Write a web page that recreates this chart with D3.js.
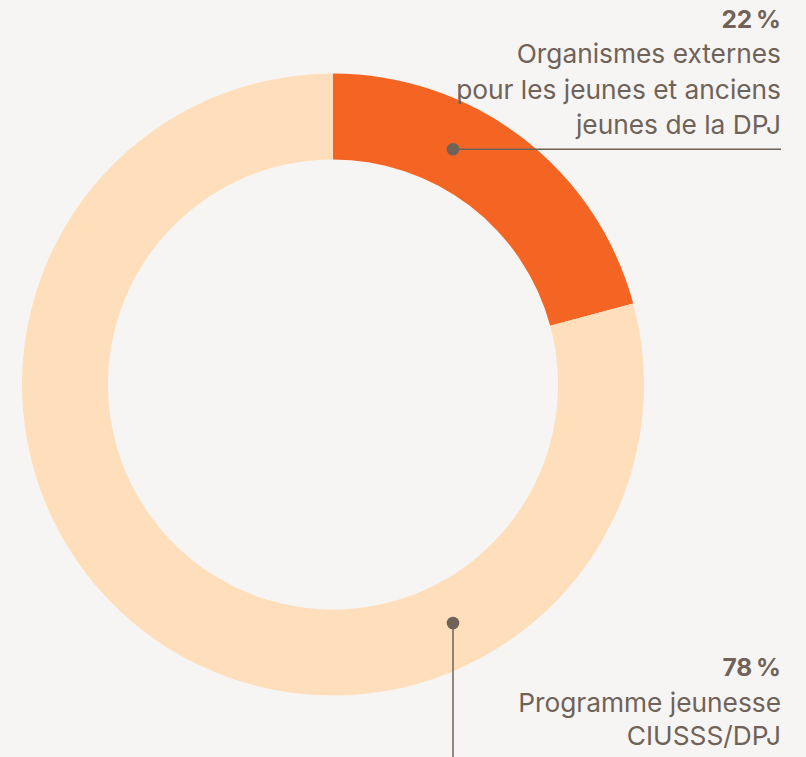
<!DOCTYPE html>
<html><head><meta charset="utf-8">
<script src="https://cdn.jsdelivr.net/npm/d3@7"></script>
<style>
html,body{margin:0;padding:0;background:#f7f5f3;}
svg{display:block;}
</style></head>
<body>
<script>
// Data
const categories = ["Organismes externes pour les jeunes et anciens jeunes de la DPJ", "Programme jeunesse CIUSSS/DPJ"];
const values = [20.8, 79.2];           // arc extents as drawn
const percentLabels = ["22\u202F%", "78\u202F%"]; // printed labels
const labelLines = [
  ["Organismes externes", "pour les jeunes et anciens", "jeunes de la DPJ"],
  ["Programme jeunesse", "CIUSSS/DPJ"]
];
const colors = ["#f46524", "#ffdfbb"];

const W = 806, H = 757;
const cx = 333, cy = 384.5, R = 311, r = 225;
const textColor = "#6e6259";

const svg = d3.select("body").append("svg").attr("width", W).attr("height", H);
svg.append("rect").attr("width", W).attr("height", H).attr("fill", "#f7f5f3");

const pie = d3.pie().sort(null).value(d => d);
const arc = d3.arc().innerRadius(r).outerRadius(R);
const arcs = pie(values);

const g = svg.append("g").attr("transform", `translate(${cx},${cy})`);
g.selectAll("path").data(arcs).enter().append("path")
  .attr("d", arc).attr("fill", (d, i) => colors[i]);

// Leader lines
const font = "Inter, 'Noto Sans', sans-serif";
const rightX = 781;
// top
svg.append("line").attr("x1", 453).attr("y1", 149.3).attr("x2", rightX).attr("y2", 149.3)
  .attr("stroke", textColor).attr("stroke-width", 1.5);
svg.append("circle").attr("cx", 453).attr("cy", 149.3).attr("r", 6.3).attr("fill", textColor);
// bottom
svg.append("line").attr("x1", 453).attr("y1", 623).attr("x2", 453).attr("y2", H)
  .attr("stroke", textColor).attr("stroke-width", 1.5);
svg.append("circle").attr("cx", 453).attr("cy", 623).attr("r", 6.3).attr("fill", textColor);

function block(pct, lines, y0, ys) {
  svg.append("text").attr("x", rightX).attr("y", y0).attr("text-anchor", "end")
    .attr("font-family", font).attr("font-weight", 700).attr("font-size", 24.5)
    .attr("fill", textColor).text(pct);
  lines.forEach((t, i) => {
    svg.append("text").attr("x", rightX).attr("y", ys[i]).attr("text-anchor", "end")
      .attr("font-family", font).attr("font-weight", 400).attr("font-size", 26.3)
      .attr("fill", textColor).text(t);
  });
}
block(percentLabels[0], labelLines[0], 28, [63, 99, 134]);
block(percentLabels[1], labelLines[1], 676, [712, 745]);
</script>
</body></html>
